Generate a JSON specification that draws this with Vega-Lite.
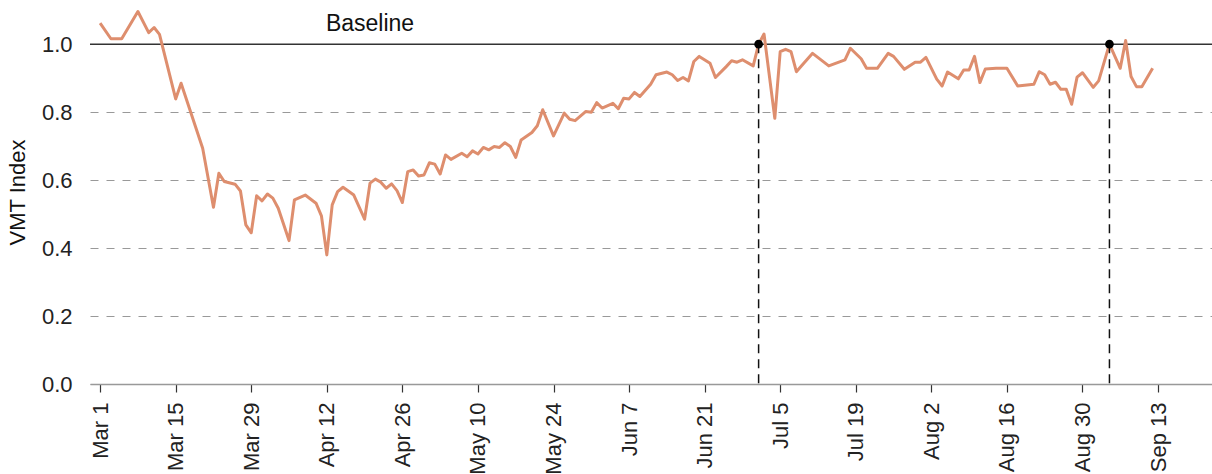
{
  "$schema": "https://vega.github.io/schema/vega-lite/v6.json",
  "width": 1122,
  "height": 384,
  "autosize": {"type": "none"},
  "padding": {"left": 90, "top": 0, "right": 0, "bottom": 90},
  "config": {
    "view": {"stroke": null},
    "font": "Liberation Sans",
    "axis": {"labelFont": "Liberation Sans", "titleFont": "Liberation Sans", "labelColor": "#222", "titleColor": "#111"}
  },
  "datasets": {
    "vmt": [
      {"date": "2020-03-01", "vmt": 1.062},
      {"date": "2020-03-03", "vmt": 1.016},
      {"date": "2020-03-05", "vmt": 1.016},
      {"date": "2020-03-08", "vmt": 1.096},
      {"date": "2020-03-10", "vmt": 1.034},
      {"date": "2020-03-11", "vmt": 1.049},
      {"date": "2020-03-12", "vmt": 1.029},
      {"date": "2020-03-15", "vmt": 0.839},
      {"date": "2020-03-16", "vmt": 0.885},
      {"date": "2020-03-20", "vmt": 0.694},
      {"date": "2020-03-22", "vmt": 0.520},
      {"date": "2020-03-23", "vmt": 0.620},
      {"date": "2020-03-24", "vmt": 0.596},
      {"date": "2020-03-26", "vmt": 0.588},
      {"date": "2020-03-27", "vmt": 0.568},
      {"date": "2020-03-28", "vmt": 0.468},
      {"date": "2020-03-29", "vmt": 0.445},
      {"date": "2020-03-30", "vmt": 0.554},
      {"date": "2020-03-31", "vmt": 0.539},
      {"date": "2020-04-01", "vmt": 0.559},
      {"date": "2020-04-02", "vmt": 0.547},
      {"date": "2020-04-03", "vmt": 0.517},
      {"date": "2020-04-05", "vmt": 0.422},
      {"date": "2020-04-06", "vmt": 0.542},
      {"date": "2020-04-08", "vmt": 0.556},
      {"date": "2020-04-10", "vmt": 0.532},
      {"date": "2020-04-11", "vmt": 0.495},
      {"date": "2020-04-12", "vmt": 0.380},
      {"date": "2020-04-13", "vmt": 0.527},
      {"date": "2020-04-14", "vmt": 0.566},
      {"date": "2020-04-15", "vmt": 0.579},
      {"date": "2020-04-17", "vmt": 0.556},
      {"date": "2020-04-19", "vmt": 0.485},
      {"date": "2020-04-20", "vmt": 0.591},
      {"date": "2020-04-21", "vmt": 0.603},
      {"date": "2020-04-22", "vmt": 0.594},
      {"date": "2020-04-23", "vmt": 0.576},
      {"date": "2020-04-24", "vmt": 0.589},
      {"date": "2020-04-25", "vmt": 0.569},
      {"date": "2020-04-26", "vmt": 0.534},
      {"date": "2020-04-27", "vmt": 0.625},
      {"date": "2020-04-28", "vmt": 0.630},
      {"date": "2020-04-29", "vmt": 0.612},
      {"date": "2020-04-30", "vmt": 0.615},
      {"date": "2020-05-01", "vmt": 0.651},
      {"date": "2020-05-02", "vmt": 0.647},
      {"date": "2020-05-03", "vmt": 0.618},
      {"date": "2020-05-04", "vmt": 0.674},
      {"date": "2020-05-05", "vmt": 0.661},
      {"date": "2020-05-07", "vmt": 0.679},
      {"date": "2020-05-08", "vmt": 0.669},
      {"date": "2020-05-09", "vmt": 0.686},
      {"date": "2020-05-10", "vmt": 0.677},
      {"date": "2020-05-11", "vmt": 0.696},
      {"date": "2020-05-12", "vmt": 0.689},
      {"date": "2020-05-13", "vmt": 0.699},
      {"date": "2020-05-14", "vmt": 0.696},
      {"date": "2020-05-15", "vmt": 0.710},
      {"date": "2020-05-16", "vmt": 0.699},
      {"date": "2020-05-17", "vmt": 0.667},
      {"date": "2020-05-18", "vmt": 0.718},
      {"date": "2020-05-20", "vmt": 0.740},
      {"date": "2020-05-21", "vmt": 0.760},
      {"date": "2020-05-22", "vmt": 0.807},
      {"date": "2020-05-24", "vmt": 0.730},
      {"date": "2020-05-26", "vmt": 0.797},
      {"date": "2020-05-27", "vmt": 0.779},
      {"date": "2020-05-28", "vmt": 0.775},
      {"date": "2020-05-30", "vmt": 0.802},
      {"date": "2020-05-31", "vmt": 0.800},
      {"date": "2020-06-01", "vmt": 0.828},
      {"date": "2020-06-02", "vmt": 0.812},
      {"date": "2020-06-04", "vmt": 0.826},
      {"date": "2020-06-05", "vmt": 0.810},
      {"date": "2020-06-06", "vmt": 0.841},
      {"date": "2020-06-07", "vmt": 0.839},
      {"date": "2020-06-08", "vmt": 0.858},
      {"date": "2020-06-09", "vmt": 0.846},
      {"date": "2020-06-11", "vmt": 0.882},
      {"date": "2020-06-12", "vmt": 0.910},
      {"date": "2020-06-14", "vmt": 0.918},
      {"date": "2020-06-15", "vmt": 0.910},
      {"date": "2020-06-16", "vmt": 0.893},
      {"date": "2020-06-17", "vmt": 0.902},
      {"date": "2020-06-18", "vmt": 0.892},
      {"date": "2020-06-19", "vmt": 0.949},
      {"date": "2020-06-20", "vmt": 0.964},
      {"date": "2020-06-22", "vmt": 0.944},
      {"date": "2020-06-23", "vmt": 0.902},
      {"date": "2020-06-25", "vmt": 0.934},
      {"date": "2020-06-26", "vmt": 0.951},
      {"date": "2020-06-27", "vmt": 0.947},
      {"date": "2020-06-28", "vmt": 0.954},
      {"date": "2020-06-30", "vmt": 0.936},
      {"date": "2020-07-01", "vmt": 1.000},
      {"date": "2020-07-02", "vmt": 1.030},
      {"date": "2020-07-04", "vmt": 0.782},
      {"date": "2020-07-05", "vmt": 0.978},
      {"date": "2020-07-06", "vmt": 0.985},
      {"date": "2020-07-07", "vmt": 0.978},
      {"date": "2020-07-08", "vmt": 0.919},
      {"date": "2020-07-09", "vmt": 0.937},
      {"date": "2020-07-11", "vmt": 0.973},
      {"date": "2020-07-14", "vmt": 0.936},
      {"date": "2020-07-17", "vmt": 0.954},
      {"date": "2020-07-18", "vmt": 0.988},
      {"date": "2020-07-20", "vmt": 0.957},
      {"date": "2020-07-21", "vmt": 0.929},
      {"date": "2020-07-23", "vmt": 0.929},
      {"date": "2020-07-25", "vmt": 0.973},
      {"date": "2020-07-26", "vmt": 0.964},
      {"date": "2020-07-28", "vmt": 0.926},
      {"date": "2020-07-30", "vmt": 0.947},
      {"date": "2020-07-31", "vmt": 0.947},
      {"date": "2020-08-01", "vmt": 0.961},
      {"date": "2020-08-03", "vmt": 0.897},
      {"date": "2020-08-04", "vmt": 0.877},
      {"date": "2020-08-05", "vmt": 0.918},
      {"date": "2020-08-07", "vmt": 0.898},
      {"date": "2020-08-08", "vmt": 0.924},
      {"date": "2020-08-09", "vmt": 0.924},
      {"date": "2020-08-10", "vmt": 0.964},
      {"date": "2020-08-11", "vmt": 0.887},
      {"date": "2020-08-12", "vmt": 0.927},
      {"date": "2020-08-14", "vmt": 0.929},
      {"date": "2020-08-16", "vmt": 0.929},
      {"date": "2020-08-18", "vmt": 0.877},
      {"date": "2020-08-21", "vmt": 0.882},
      {"date": "2020-08-22", "vmt": 0.919},
      {"date": "2020-08-23", "vmt": 0.910},
      {"date": "2020-08-24", "vmt": 0.882},
      {"date": "2020-08-25", "vmt": 0.888},
      {"date": "2020-08-26", "vmt": 0.867},
      {"date": "2020-08-27", "vmt": 0.867},
      {"date": "2020-08-28", "vmt": 0.823},
      {"date": "2020-08-29", "vmt": 0.903},
      {"date": "2020-08-30", "vmt": 0.916},
      {"date": "2020-09-01", "vmt": 0.873},
      {"date": "2020-09-02", "vmt": 0.892},
      {"date": "2020-09-04", "vmt": 1.000},
      {"date": "2020-09-06", "vmt": 0.929},
      {"date": "2020-09-07", "vmt": 1.011},
      {"date": "2020-09-08", "vmt": 0.905},
      {"date": "2020-09-09", "vmt": 0.875},
      {"date": "2020-09-10", "vmt": 0.875},
      {"date": "2020-09-12", "vmt": 0.929}
    ],
    "marks": [
      {"date": "2020-07-01", "vmt": 1.0, "base": 0},
      {"date": "2020-09-04", "vmt": 1.0, "base": 0}
    ],
    "label": [
      {"date": "2020-04-20", "vmt": 1.0, "text": "Baseline"}
    ],
    "baseline": [
      {"vmt": 1.0}
    ]
  },
  "encoding": {
    "x": {
      "field": "date",
      "type": "temporal",
      "scale": {
        "type": "utc",
        "domain": [
          {"year": 2020, "month": 2, "date": 28, "hours": 3, "utc": true},
          {"year": 2020, "month": 9, "date": 23, "utc": true}
        ]
      },
      "axis": {
        "title": null,
        "grid": false,
        "labelExpr": "utcFormat(datum.value, '%b %-d')",
        "values": [
          {"year": 2020, "month": 3, "date": 1, "utc": true},
          {"year": 2020, "month": 3, "date": 15, "utc": true},
          {"year": 2020, "month": 3, "date": 29, "utc": true},
          {"year": 2020, "month": 4, "date": 12, "utc": true},
          {"year": 2020, "month": 4, "date": 26, "utc": true},
          {"year": 2020, "month": 5, "date": 10, "utc": true},
          {"year": 2020, "month": 5, "date": 24, "utc": true},
          {"year": 2020, "month": 6, "date": 7, "utc": true},
          {"year": 2020, "month": 6, "date": 21, "utc": true},
          {"year": 2020, "month": 7, "date": 5, "utc": true},
          {"year": 2020, "month": 7, "date": 19, "utc": true},
          {"year": 2020, "month": 8, "date": 2, "utc": true},
          {"year": 2020, "month": 8, "date": 16, "utc": true},
          {"year": 2020, "month": 8, "date": 30, "utc": true},
          {"year": 2020, "month": 9, "date": 13, "utc": true}
        ],
        "labelAngle": -90,
        "labelFontSize": 22,
        "labelPadding": 10,
        "labelOverlap": false,
        "labelFlush": false,
        "domainColor": "#999",
        "domainWidth": 1.5,
        "tickColor": "#333",
        "tickSize": 8,
        "tickWidth": 1.2
      }
    },
    "y": {
      "field": "vmt",
      "type": "quantitative",
      "scale": {"domain": [0, 1.13], "nice": false, "zero": true},
      "axis": {
        "title": "VMT Index",
        "titleFontSize": 22,
        "titleFontWeight": "normal",
        "titlePadding": 12,
        "values": [0, 0.2, 0.4, 0.6, 0.8, 1.0],
        "format": ".1f",
        "labelFontSize": 22,
        "labelPadding": 18,
        "ticks": false,
        "domain": false,
        "grid": true,
        "gridColor": "#999",
        "gridDash": [8, 8],
        "gridWidth": 1
      }
    }
  },
  "layer": [
    {
      "data": {"name": "baseline"},
      "mark": {"type": "rule", "color": "#333", "strokeWidth": 1.5},
      "encoding": {"x": null}
    },
    {
      "data": {"name": "vmt"},
      "mark": {"type": "line", "color": "#de8e6e", "strokeWidth": 3, "strokeJoin": "round"}
    },
    {
      "data": {"name": "marks"},
      "mark": {"type": "rule", "color": "#111", "strokeWidth": 1.5, "strokeDash": [9, 6]},
      "encoding": {"y2": {"field": "base"}}
    },
    {
      "data": {"name": "marks"},
      "mark": {"type": "circle", "color": "#000", "opacity": 1, "size": 75}
    },
    {
      "data": {"name": "label"},
      "mark": {"type": "text", "fontSize": 23, "color": "#111", "align": "center", "baseline": "bottom", "dy": -8, "font": "Liberation Sans"},
      "encoding": {"text": {"field": "text"}}
    }
  ]
}
